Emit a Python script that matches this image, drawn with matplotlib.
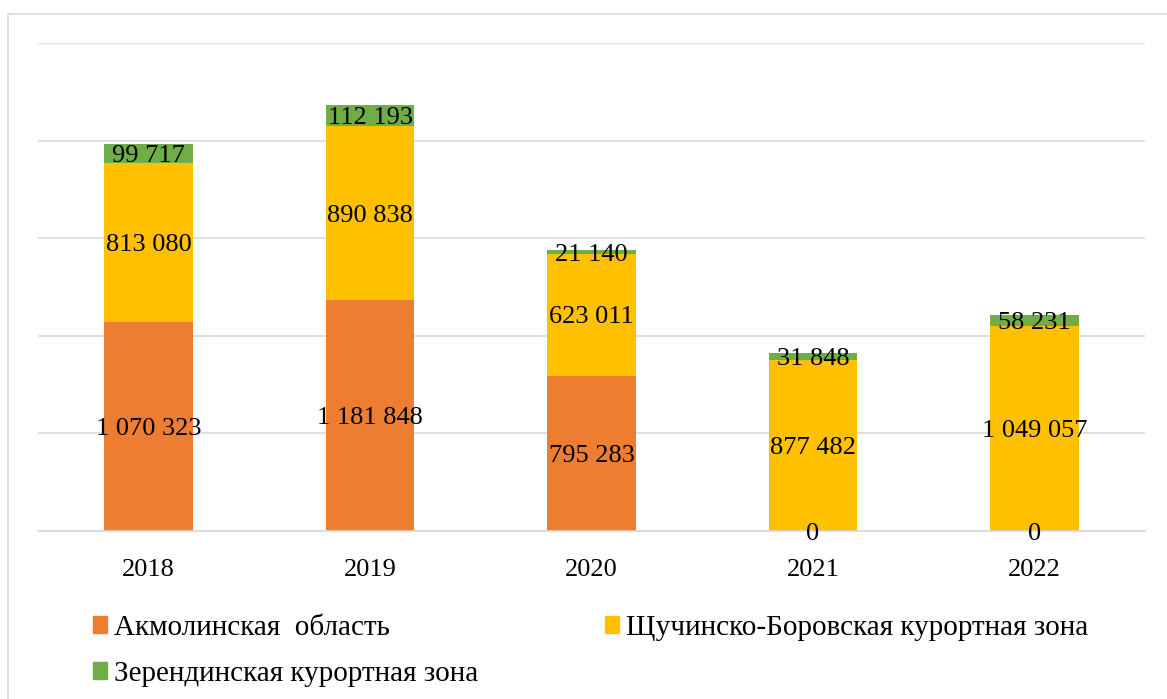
import matplotlib.pyplot as plt
from matplotlib.patches import Rectangle, Patch

# data
years = ['2018', '2019', '2020', '2021', '2022']
akmola = [1070323, 1181848, 795283, 0, 0]
shchuchinsk = [813080, 890838, 623011, 877482, 1049057]
zerenda = [99717, 112193, 21140, 31848, 58231]

names = ['Акмолинская  область', 'Щучинско-Боровская курортная зона',
         'Зерендинская курортная зона']
colors = ['#ED7D31', '#FFC000', '#70AD47']

plt.rcParams['font.family'] = ['Liberation Serif', 'DejaVu Serif']


def fmt(v):
    return f'{v:,}'.replace(',', ' ')


fig = plt.figure(figsize=(11.67, 6.99), dpi=100)
ax = fig.add_axes([38 / 1167, 1 - 531 / 699, (1145 - 38) / 1167, (531 - 43) / 699])

x = range(len(years))
bottoms = [0] * len(years)
for vals, col in zip([akmola, shchuchinsk, zerenda], colors):
    ax.bar(x, vals, width=0.4, bottom=bottoms, color=col, zorder=2)
    for i, v in enumerate(vals):
        ax.text(i, bottoms[i] + v / 2, fmt(v), ha='center', va='center_baseline',
                fontsize=19, color='black', zorder=3)
    bottoms = [b + v for b, v in zip(bottoms, vals)]

ax.set_xlim(-0.5, 4.5)
ax.set_ylim(0, 2500000)
ax.set_yticks([0, 500000, 1000000, 1500000, 2000000, 2500000])
ax.set_yticklabels([])
ax.yaxis.grid(True, color='#D9D9D9', linewidth=1.2, zorder=0)
ax.tick_params(left=False, bottom=False, labelsize=19, pad=17)
ax.set_xticks(list(x))
ax.set_xticklabels(years)
for s in ['top', 'right', 'left']:
    ax.spines[s].set_visible(False)
ax.spines['bottom'].set_color('#D9D9D9')
ax.spines['bottom'].set_linewidth(1.2)

# legend: row 1 -> first two, row 2 -> third
handles = [Patch(color=c) for c in colors]
order = [0, 2, 1]
fig.legend([handles[i] for i in order], [names[i] for i in order],
           ncol=2, loc='upper left', bbox_to_anchor=(78 / 1167, 1 - 600 / 699),
           frameon=False, fontsize=21, borderpad=0, handlelength=0.48,
           handleheight=0.5, handletextpad=0.25, columnspacing=4.35,
           labelspacing=0.7)

# outer frame
fig.patches.append(Rectangle((8 / 1167, -0.05), 1.1, 1 - 14 / 699 + 0.05,
                             transform=fig.transFigure, fill=False,
                             edgecolor='#D9D9D9', linewidth=1.2))

fig.savefig('out.png', dpi=100)
